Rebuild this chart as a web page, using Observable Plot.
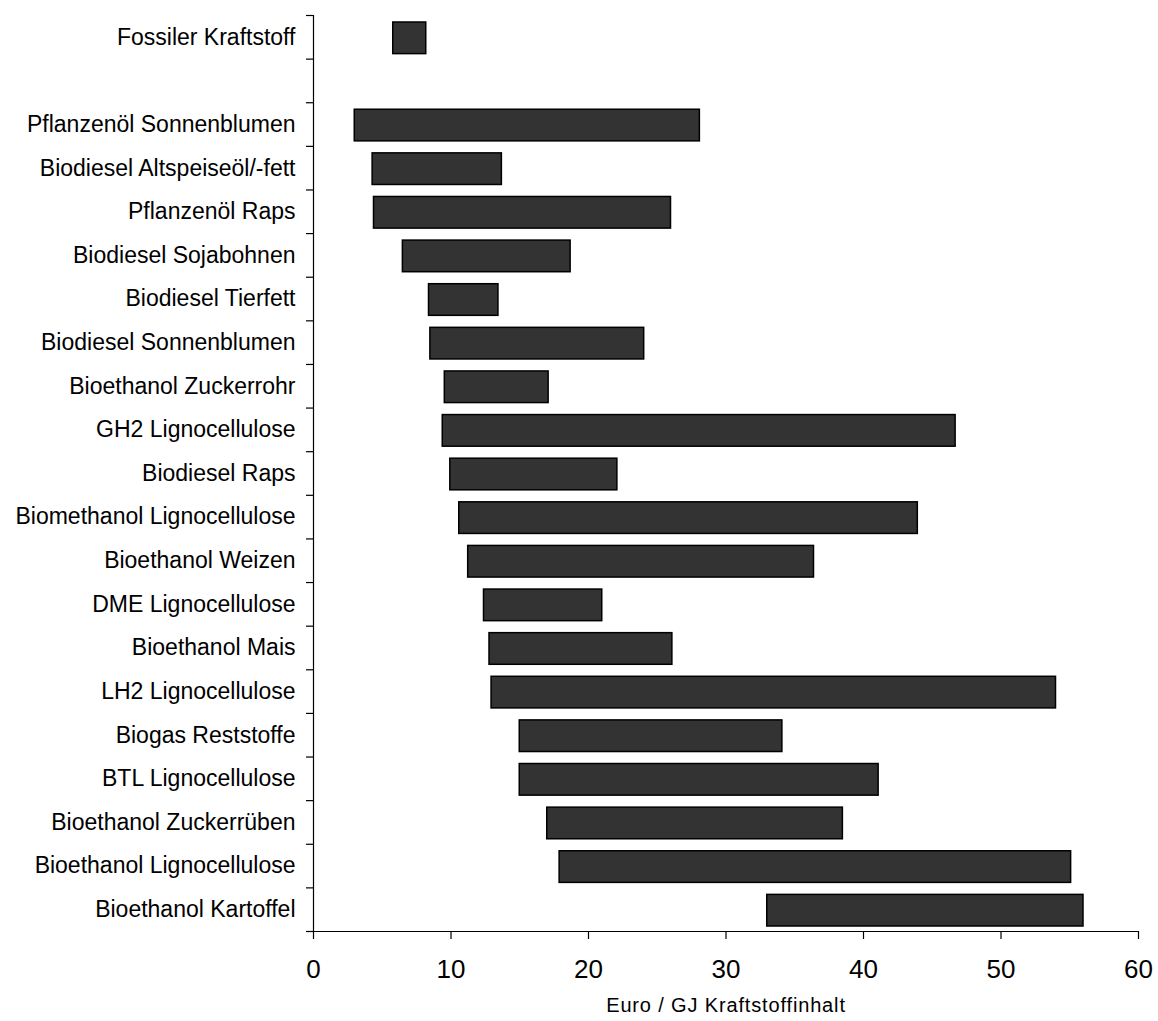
<!DOCTYPE html>
<html>
<head>
<meta charset="utf-8">
<script src="https://cdn.jsdelivr.net/npm/d3@7"></script>
<script src="https://cdn.jsdelivr.net/npm/@observablehq/plot@0.6"></script>
<style>
  html, body { margin: 0; padding: 0; background: #fff; }
  #chart svg { display: block; }
  #chart svg g[aria-label="text"] text { letter-spacing: 0.85px; }
</style>
</head>
<body>
<div id="chart"></div>
<script>
// Categories top to bottom ("" = empty spacer row)
const categories = [
  "Fossiler Kraftstoff",
  "",
  "Pflanzenöl Sonnenblumen",
  "Biodiesel Altspeiseöl/-fett",
  "Pflanzenöl Raps",
  "Biodiesel Sojabohnen",
  "Biodiesel Tierfett",
  "Biodiesel Sonnenblumen",
  "Bioethanol Zuckerrohr",
  "GH2 Lignocellulose",
  "Biodiesel Raps",
  "Biomethanol Lignocellulose",
  "Bioethanol Weizen",
  "DME Lignocellulose",
  "Bioethanol Mais",
  "LH2 Lignocellulose",
  "Biogas Reststoffe",
  "BTL Lignocellulose",
  "Bioethanol Zuckerrüben",
  "Bioethanol Lignocellulose",
  "Bioethanol Kartoffel"
];
// Cost range (Euro / GJ Kraftstoffinhalt)
const lows  = [5.8, null, 3.0, 4.3, 4.4, 6.5, 8.4, 8.5, 9.55, 9.4, 9.95, 10.6, 11.25, 12.4, 12.8, 12.95, 15.0, 15.0, 17.0, 17.9, 33.0];
const highs = [8.2, null, 28.1, 13.7, 26.0, 18.7, 13.45, 24.05, 17.1, 46.7, 22.1, 43.95, 36.4, 21.0, 26.1, 54.0, 34.1, 41.1, 38.5, 55.1, 56.0];
const xTicks = [0, 10, 20, 30, 40, 50, 60];
const xLabel = "Euro / GJ Kraftstoffinhalt";

const rows = categories.map((name, i) => ({name, i, lo: lows[i], hi: highs[i]}));
const bars = rows.filter(d => d.lo != null);
const labelRows = rows.filter(d => d.name !== "");
const n = categories.length;

const chart = Plot.plot({
  width: 1158,
  height: 1021,
  marginTop: 15,
  marginBottom: 90,
  marginLeft: 313,
  marginRight: 20,
  style: {fontFamily: "Arial, 'Liberation Sans', sans-serif", color: "#000", background: "#fff"},
  x: {domain: [0, 60]},
  y: {domain: [0, n], reverse: true},
  marks: [
    Plot.rectX(bars, {
      x1: "lo", x2: "hi",
      y1: d => d.i, y2: d => d.i + 1,
      insetTop: 7, insetBottom: 5,
      fill: "#333333", stroke: "#000", strokeWidth: 1.5
    }),
    Plot.ruleX([0], {y1: 0, y2: n, stroke: "#000", strokeWidth: 1.2}),
    Plot.ruleY([n], {x1: 0, x2: 60, stroke: "#000", strokeWidth: 1.2}),
    Plot.axisY({
      ticks: d3.range(0, n + 1),
      tickSize: 7,
      tickFormat: () => "",
      strokeWidth: 1.2
    }),
    Plot.axisY({
      ticks: labelRows.map(d => d.i + 0.5),
      tickSize: 0,
      tickPadding: 18,
      tickFormat: v => categories[Math.floor(v)],
      fontSize: 23,
      fill: "#000"
    }),
    Plot.axisX({
      ticks: xTicks,
      tickSize: 8,
      tickPadding: 20,
      fontSize: 26,
      fill: "#000",
      strokeWidth: 1.2,
      label: null
    }),
    Plot.text([xLabel], {
      frameAnchor: "bottom",
      dy: 80,
      fontSize: 20,
      fill: "#000",
      text: d => d
    })
  ]
});
document.getElementById("chart").append(chart);
</script>
</body>
</html>
